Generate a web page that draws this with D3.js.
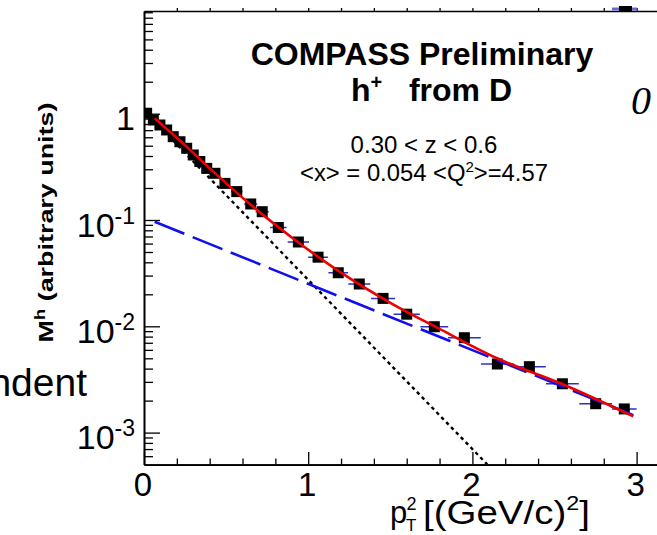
<!DOCTYPE html>
<html>
<head>
<meta charset="utf-8">
<script src="https://cdn.jsdelivr.net/npm/d3@7"></script>
<style>
  body { margin: 0; background: #fff; }
  svg { display: block; font-family: "Liberation Sans", Arial, Helvetica, sans-serif; }
</style>
</head>
<body>
<svg width="657" height="535"></svg>
<script>
// measured points (pT^2 bin centre, multiplicity, half bin width)
const pt2 = [0.016, 0.057, 0.097, 0.138, 0.178, 0.219, 0.26, 0.30, 0.34, 0.382, 0.432, 0.493, 0.565,
  0.65, 0.72, 0.818, 0.94, 1.06, 1.183, 1.311, 1.456, 1.6, 1.768, 1.951, 2.152, 2.347, 2.548, 2.751, 2.925];
const mh = [1.01, 0.873, 0.783, 0.703, 0.608, 0.545, 0.473, 0.409, 0.355, 0.306, 0.275, 0.221, 0.185,
  0.1415, 0.1197, 0.085, 0.0621, 0.0447, 0.0319, 0.025, 0.0183, 0.013, 0.00991, 0.00781, 0.00442,
  0.00417, 0.00288, 0.00187, 0.00167];
const pt2Err = [0.01, 0.01, 0.01, 0.01, 0.01, 0.01, 0.015, 0.015, 0.02, 0.02, 0.025, 0.03, 0.035,
  0.04, 0.04, 0.05, 0.065, 0.06, 0.06, 0.067, 0.073, 0.08, 0.085, 0.1, 0.1, 0.1, 0.1, 0.1, 0.075];

// full fit (red)
const fitX = [0.065, 0.2, 0.4, 0.65, 0.9, 1.2, 1.5, 1.8, 2.15, 2.55, 2.98];
const fitY = [0.9, 0.593, 0.306, 0.139, 0.0685, 0.032, 0.01665, 0.00944, 0.0050, 0.00285, 0.00142];
// steep component (black dotted)
const steepX = [0.0, 2.09];
const steepY = [1.07, 5.03e-4];
// flat component (blue dashed)
const flatX = [0.065, 2.98];
const flatY = [0.0962, 0.00146];

const xTicks = [0, 1, 2, 3];
const yTicks = [1e-3, 1e-2, 1e-1, 1];
const yTickBase = ["10", "10", "10", "1"];
const yTickExp = ["-3", "-2", "-1", ""];

const svg = d3.select("svg");

const plotLeft = 144, plotTop = 11, plotBottom = 464.6, plotRight = 670;
const x = d3.scaleLinear().domain([0, 3.2]).range([plotLeft, plotLeft + 3.2 * 164.2]);
const y = d3.scaleLog().domain([5e-4, 9.25]).range([plotBottom, plotTop]);

svg.append("defs").append("clipPath").attr("id", "plot")
  .append("rect").attr("x", plotLeft).attr("y", plotTop)
  .attr("width", plotRight - plotLeft).attr("height", plotBottom - plotTop);

// minor y ticks 2..9 per decade
const yMinor = [];
for (let e = -4; e <= 0; e++) {
  for (let m = 2; m <= 9; m++) {
    const v = m * Math.pow(10, e);
    if (v > 5e-4 && v < 9.25) yMinor.push(v);
  }
}
const xMinor = d3.range(0.2, 3.2, 0.2).filter((v) => Math.abs(v - Math.round(v)) > 0.01);

const axisStyle = (g) => {
  g.selectAll("path").attr("stroke", "#000").attr("stroke-width", 1.6);
  g.selectAll("line").attr("stroke", "#000").attr("stroke-width", 1.3);
  g.selectAll("text").remove();
};

svg.append("g").attr("transform", `translate(${plotLeft},0)`)
  .call(d3.axisLeft(y).tickValues(yMinor).tickSize(-9).tickSizeOuter(0).tickFormat(""))
  .call(axisStyle);
svg.append("g").attr("transform", `translate(${plotLeft},0)`)
  .call(d3.axisLeft(y).tickValues(yTicks).tickSize(-16).tickSizeOuter(0).tickFormat(""))
  .call(axisStyle);

svg.append("g").attr("transform", `translate(0,${plotBottom})`)
  .call(d3.axisBottom(x).tickValues(xMinor).tickSize(-6).tickSizeOuter(0).tickFormat(""))
  .call(axisStyle);
svg.append("g").attr("transform", `translate(0,${plotBottom})`)
  .call(d3.axisBottom(x).tickValues(xTicks).tickSize(-12.5).tickSizeOuter(0).tickFormat(""))
  .call(axisStyle);

svg.append("g").attr("transform", `translate(0,${plotTop})`)
  .call(d3.axisTop(x).tickValues(d3.range(0.2, 3.2, 0.2)).tickSize(3).tickSizeOuter(0).tickFormat(""))
  .call(axisStyle);

// tick labels
svg.append("g").selectAll("text").data(xTicks).enter().append("text")
  .attr("x", (d) => x(d) - 1).attr("y", 496)
  .attr("text-anchor", "middle").attr("font-size", 33)
  .text((d) => d);

const yl = svg.append("g").selectAll("text").data(yTicks).enter().append("text")
  .attr("x", 135).attr("y", (d) => y(d) + 16.5)
  .attr("text-anchor", "end").attr("font-size", 34);
yl.append("tspan").text((d, i) => yTickBase[i]);
yl.append("tspan").attr("font-size", 23).attr("dy", -13).text((d, i) => yTickExp[i]);

// axis titles
const ylab = svg.append("text")
  .attr("text-anchor", "middle").attr("font-size", 20.5).attr("font-weight", "bold");
ylab.append("tspan").text("M");
ylab.append("tspan").attr("font-size", 14).attr("dy", -8).text("h");
ylab.append("tspan").attr("dy", 8).text(" (arbitrary units)");
const ylabLen = ylab.node().getComputedTextLength();
ylab.attr("transform", `translate(53,222.5) rotate(-90) scale(${240 / ylabLen},1)`);

const xlab = svg.append("g").attr("font-size", 31);
xlab.append("text").attr("x", 390).attr("y", 523).text("p");
xlab.append("text").attr("x", 406.5).attr("y", 510).attr("font-size", 18).text("2");
xlab.append("text").attr("x", 406).attr("y", 531).attr("font-size", 17).text("T");
const xl2 = xlab.append("text").attr("y", 0).attr("font-size", 33);
xl2.append("tspan").text("[(GeV/c)");
xl2.append("tspan").attr("font-size", 20).attr("dy", -14).text("2");
xl2.append("tspan").attr("dy", 14).text("]");
const xl2Len = xl2.node().getComputedTextLength();
xl2.attr("transform", `translate(423,524) scale(${167 / xl2Len},1)`);

// data: error bars, markers
const data = pt2.map((v, i) => ({ x: v, y: mh[i], e: pt2Err[i] }));
const plot = svg.append("g").attr("clip-path", "url(#plot)");

plot.append("g").selectAll("line").data(data).enter().append("line")
  .attr("x1", (d) => x(d.x - d.e)).attr("x2", (d) => x(d.x + d.e))
  .attr("y1", (d) => y(d.y)).attr("y2", (d) => y(d.y))
  .attr("stroke", "#2f2fc8").attr("stroke-width", 1.5);

plot.append("g").selectAll("rect").data(data).enter().append("rect")
  .attr("x", (d) => x(d.x) - 5.5).attr("y", (d) => y(d.y) - 5.5)
  .attr("width", 11).attr("height", 11).attr("fill", "#000");

const line = d3.line().x((d) => x(d[0])).y((d) => y(d[1])).curve(d3.curveMonotoneX);

plot.append("path").datum(steepX.map((v, i) => [v, steepY[i]]))
  .attr("d", line).attr("fill", "none").attr("stroke", "#000")
  .attr("stroke-width", 2.4).attr("stroke-dasharray", "3.5,3.5");

plot.append("path").datum(flatX.map((v, i) => [v, flatY[i]]))
  .attr("d", line).attr("fill", "none").attr("stroke", "#1010ee")
  .attr("stroke-width", 2.6).attr("stroke-dasharray", "32,9");

plot.append("path").datum(fitX.map((v, i) => [v, fitY[i]]))
  .attr("d", line).attr("fill", "none").attr("stroke", "#ee0000")
  .attr("stroke-width", 2.6);

// stray marker clipped at top frame
svg.append("line").attr("x1", 612).attr("x2", 637).attr("y1", 9).attr("y2", 9)
  .attr("stroke", "#6a6ad0").attr("stroke-width", 3);
svg.append("rect").attr("x", 619).attr("y", 6).attr("width", 13).attr("height", 5).attr("fill", "#000");

// titles
svg.append("text").attr("x", 422).attr("y", 65).attr("text-anchor", "middle")
  .attr("font-size", 32).attr("font-weight", "bold").text("COMPASS Preliminary");
const t2 = svg.append("text").attr("x", 351).attr("y", 101)
  .attr("font-size", 32).attr("font-weight", "bold");
t2.append("tspan").text("h");
t2.append("tspan").attr("font-size", 20).attr("dy", -12).text("+");
t2.append("tspan").attr("dy", 12).text("\u00a0\u00a0 from D");

svg.append("text").attr("x", 424).attr("y", 153).attr("text-anchor", "middle")
  .attr("font-size", 24).text("0.30 < z < 0.6");
const t4 = svg.append("text").attr("x", 424).attr("y", 181).attr("text-anchor", "middle")
  .attr("font-size", 23.8);
t4.append("tspan").text("<x> = 0.054 <Q");
t4.append("tspan").attr("font-size", 15).attr("dy", -9).text("2");
t4.append("tspan").attr("dy", 9).text(">=4.57");

// fragments of surrounding slide text
svg.append("text").attr("x", 87).attr("y", 396).attr("text-anchor", "end")
  .attr("font-size", 39).text("ndent");
svg.append("text").attr("x", 631).attr("y", 114)
  .attr("font-family", "Liberation Serif, serif").attr("font-style", "italic")
  .attr("font-size", 40).text("0");
</script>
</body>
</html>
